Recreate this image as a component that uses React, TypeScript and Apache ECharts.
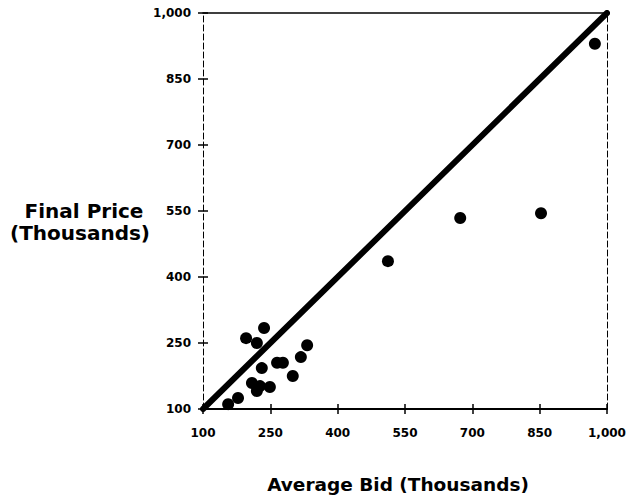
import React, { useEffect, useRef } from "react";
import * as echarts from "echarts";

const axisTicks = [100, 250, 400, 550, 700, 850, 1000];
const tickLabels = ["100", "250", "400", "550", "700", "850", "1,000"];
const averageBid = [973, 673, 853, 512, 236, 196, 220, 332, 318, 265, 278, 231, 300, 209, 227, 249, 220, 178, 156];
const finalPrice = [930, 534, 545, 436, 284, 261, 250, 245, 218, 205, 205, 193, 175, 159, 152, 150, 141, 125, 111];
const referenceLine = [[100, 100], [1000, 1000]];

const FONT = "DejaVu Sans";

export default function App() {
  const ref = useRef<HTMLDivElement>(null);
  useEffect(() => {
    if (!ref.current) return;
    const chart = echarts.init(ref.current, null, { renderer: "svg" });
    const fmt = (v: number) => {
      const i = axisTicks.indexOf(v);
      return i >= 0 ? tickLabels[i] : "";
    };
    const baseAxis = {
      type: "value" as const,
      min: 100,
      max: 1000,
      interval: 150,
      splitLine: { show: false },
    };
    const labelStyle = { color: "#000", fontFamily: FONT, fontWeight: "bold", fontSize: 12 };
    chart.setOption({
      animation: false,
      backgroundColor: "#fff",
      grid: { left: 203, top: 13, width: 404, height: 396, containLabel: false },
      xAxis: [
        {
          ...baseAxis,
          position: "bottom",
          axisLine: { show: true, lineStyle: { color: "#000", width: 2 } },
          axisTick: { show: true, inside: false, length: 5, lineStyle: { color: "#000", width: 1.5 } },
          axisLabel: { ...labelStyle, margin: 18, formatter: fmt },
        },
        {
          ...baseAxis,
          position: "bottom",
          axisLine: { show: false },
          axisTick: { show: true, inside: true, length: 5, lineStyle: { color: "#000", width: 1.5 } },
          axisLabel: { show: false },
        },
        {
          ...baseAxis,
          position: "top",
          axisLine: { show: true, lineStyle: { color: "#000", width: 1.5 } },
          axisTick: { show: false },
          axisLabel: { show: false },
        },
      ],
      yAxis: [
        {
          ...baseAxis,
          position: "left",
          axisLine: { show: true, lineStyle: { color: "#000", width: 1, type: [6, 3] } },
          axisTick: { show: true, inside: false, length: 5, lineStyle: { color: "#000", width: 1.5 } },
          axisLabel: { ...labelStyle, margin: 12, formatter: fmt },
        },
        {
          ...baseAxis,
          position: "left",
          axisLine: { show: false },
          axisTick: { show: true, inside: true, length: 5, lineStyle: { color: "#000", width: 1.5 } },
          axisLabel: { show: false },
        },
        {
          ...baseAxis,
          position: "right",
          axisLine: { show: true, lineStyle: { color: "#000", width: 1, type: [6, 3] } },
          axisTick: { show: false },
          axisLabel: { show: false },
        },
      ],
      series: [
        {
          type: "line",
          data: referenceLine,
          xAxisIndex: 0,
          yAxisIndex: 0,
          symbol: "none",
          lineStyle: { color: "#000", width: 6, cap: "round" },
          z: 2,
        },
        {
          type: "scatter",
          data: averageBid.map((x, i) => [x, finalPrice[i]]),
          xAxisIndex: 0,
          yAxisIndex: 0,
          symbol: "circle",
          symbolSize: 12,
          itemStyle: { color: "#000", opacity: 1 },
          z: 3,
        },
      ],
      graphic: [
        {
          type: "text",
          x: 84,
          y: 211,
          style: {
            text: "Final Price",
            font: `bold 20px "${FONT}"`,
            fill: "#000",
            align: "center",
            verticalAlign: "middle",
          },
        },
        {
          type: "text",
          x: 80,
          y: 233,
          style: {
            text: "(Thousands)",
            font: `bold 20px "${FONT}"`,
            fill: "#000",
            align: "center",
            verticalAlign: "middle",
          },
        },
        {
          type: "text",
          x: 398,
          y: 484,
          style: {
            text: "Average Bid (Thousands)",
            font: `bold 18.5px "${FONT}"`,
            fill: "#000",
            align: "center",
            verticalAlign: "middle",
          },
        },
      ],
    });
    return () => chart.dispose();
  }, []);
  return (
    <div
      ref={ref}
      style={{ position: "fixed", left: 0, top: 0, width: 632, height: 500, background: "#fff" }}
    />
  );
}
